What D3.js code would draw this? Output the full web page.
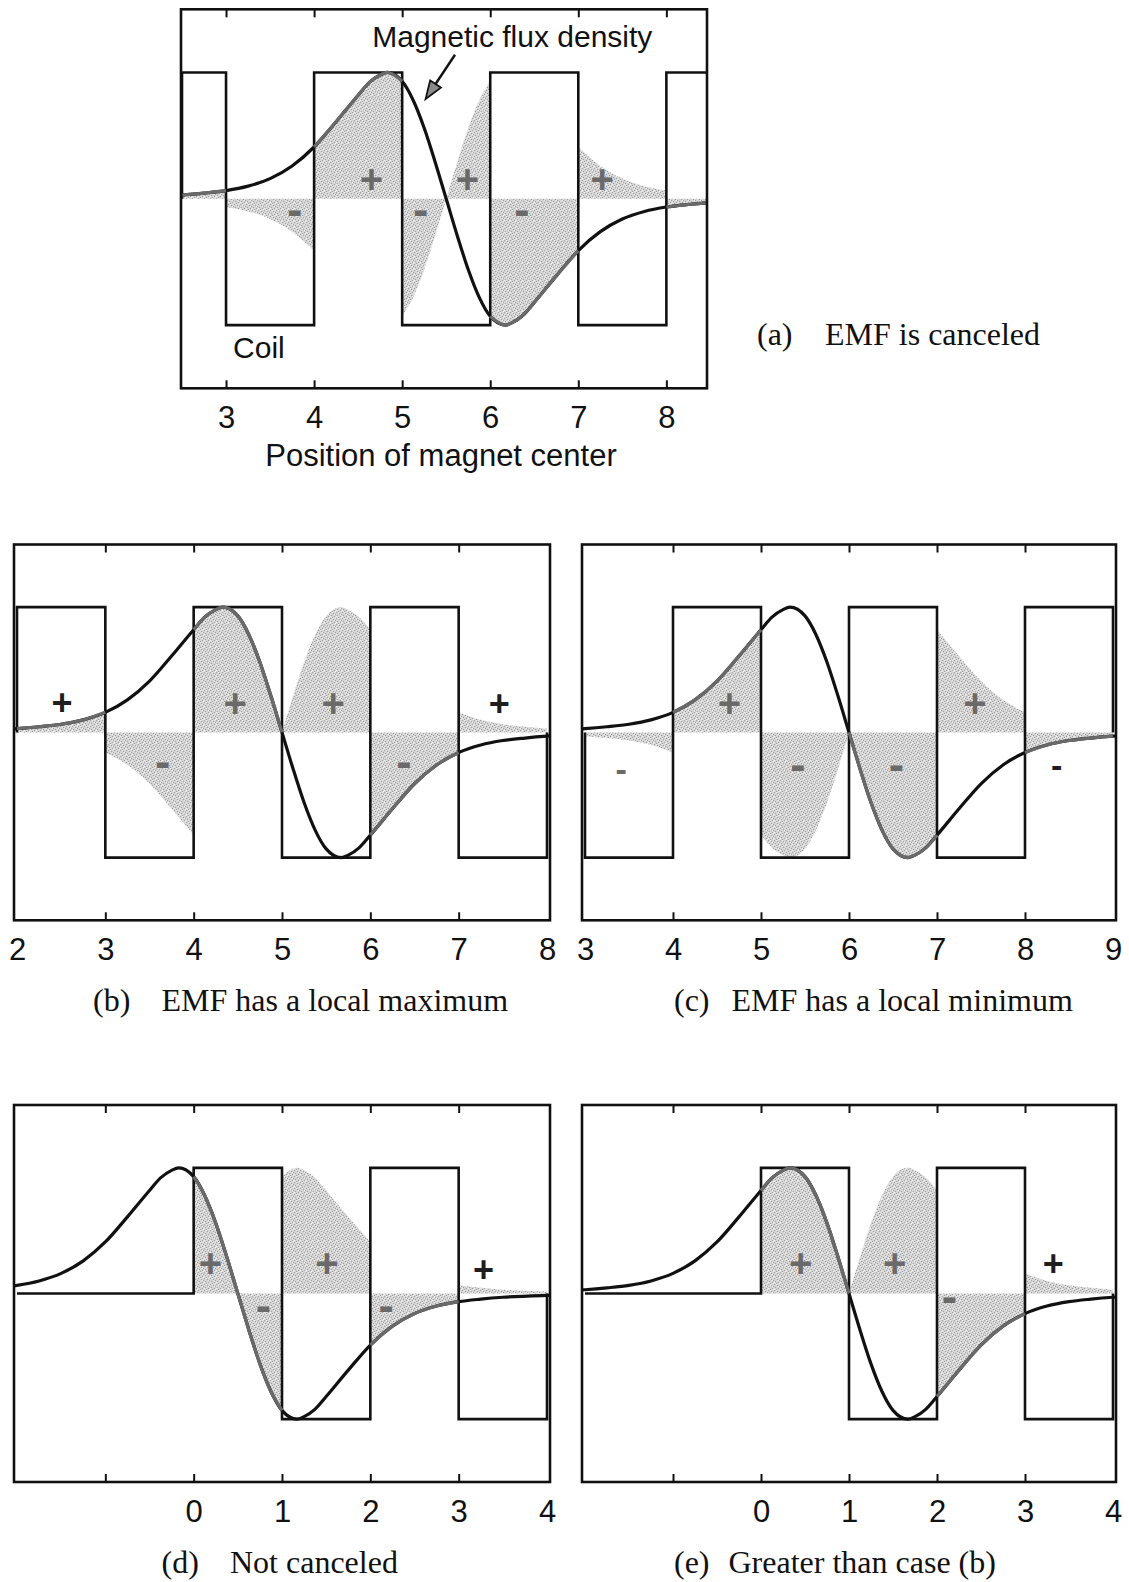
<!DOCTYPE html>
<html>
<head>
<meta charset="utf-8">
<script src="https://cdn.jsdelivr.net/npm/d3@7"></script>
<style>
  html, body { margin: 0; padding: 0; background: #fff; }
  svg { display: block; }
  .sans { font-family: "Liberation Sans", Arial, sans-serif; }
  .serif { font-family: "Liberation Serif", "Times New Roman", serif; }
</style>
</head>
<body>
<svg id="fig" width="1129" height="1582"></svg>
<script>
// Normalised magnetic flux density of the magnet versus offset from its centre
const fluxOffset = [-4, -3.5, -3, -2.75, -2.5, -2.25, -2, -1.75, -1.5, -1.25, -1, -0.875, -0.75, -0.67, -0.5, -0.375, -0.25, -0.125,
                    0, 0.125, 0.25, 0.375, 0.5, 0.67, 0.75, 0.875, 1, 1.25, 1.5, 1.75, 2, 2.25, 2.5, 2.75, 3, 3.5, 4];
const fluxValue  = [0.008, 0.015, 0.03, 0.045, 0.065, 0.10, 0.16, 0.26, 0.41, 0.61, 0.82, 0.92, 0.98, 1.0, 0.93, 0.78, 0.56, 0.29,
                    0, -0.29, -0.56, -0.78, -0.93, -1.0, -0.98, -0.92, -0.82, -0.61, -0.41, -0.26, -0.16, -0.10, -0.065, -0.045, -0.03, -0.015, -0.008];

// Five cases: magnet centre position, plotted range and coil winding layout
const panelIds     = ["a", "b", "c", "d", "e"];
const magnetCenter = [5.5, 5, 6, 0.5, 1];
const xDomains     = [[2.5, 8.45], [2, 8], [3, 9], [-2, 4], [-2, 4]];
const coilEdges    = [[2.5, 3, 4, 5, 6, 7, 8, 8.5], [2, 3, 4, 5, 6, 7, 8], [3, 4, 5, 6, 7, 8, 9], [-2, 0, 1, 2, 3, 4], [-2, 0, 1, 2, 3, 4]];
const coilLevels   = [[1, -1, 1, -1, 1, -1, 1], [1, -1, 1, -1, 1, -1], [-1, 1, -1, 1, -1, 1], [0, 1, -1, 1, -1], [0, 1, -1, 1, -1]];
const tickMarks    = [[3, 4, 5, 6, 7, 8], [3, 4, 5, 6, 7], [4, 5, 6, 7, 8], [-1, 0, 1, 2, 3], [-1, 0, 1, 2, 3]];
const tickLabels   = [[3, 4, 5, 6, 7, 8], [2, 3, 4, 5, 6, 7, 8], [3, 4, 5, 6, 7, 8, 9], [0, 1, 2, 3, 4], [0, 1, 2, 3, 4]];

// Sign of the EMF contribution in each shaded region
const signText = [["-", "+", "-", "+", "-", "+"], ["+", "-", "+", "+", "-", "+"], ["-", "+", "-", "-", "+", "-"], ["+", "-", "+", "-", "+"], ["+", "+", "-", "+"]];
const signX    = [[3.78, 4.65, 5.21, 5.74, 6.36, 7.27], [2.51, 3.65, 4.47, 5.58, 6.38, 7.46], [3.41, 4.64, 5.42, 6.54, 7.43, 8.36], [0.19, 0.79, 1.51, 2.18, 3.28], [0.45, 1.52, 2.14, 3.32]];
const signY    = [[-0.12, 0.15, -0.12, 0.15, -0.12, 0.15], [0.24, -0.27, 0.23, 0.23, -0.27, 0.23], [-0.32, 0.23, -0.29, -0.29, 0.23, -0.29], [0.24, -0.13, 0.24, -0.13, 0.19], [0.24, 0.24, -0.06, 0.24]];
const signDark = [[0, 0, 0, 0, 0, 0], [1, 0, 0, 0, 0, 1], [0, 0, 0, 0, 0, 1], [0, 0, 0, 0, 1], [0, 0, 0, 1]];
const signThin = [[0, 0, 0, 0, 0, 0], [1, 0, 0, 0, 0, 1], [1, 0, 0, 0, 0, 1], [0, 0, 0, 0, 1], [0, 0, 0, 1]];

const captionTag  = ["(a)", "(b)", "(c)", "(d)", "(e)"];
const captionText = ["EMF is canceled", "EMF has a local maximum", "EMF has a local minimum", "Not canceled", "Greater than case (b)"];

// Page layout of each panel (pixels)
const layout = [
  { left: 181, right: 707,  top: 9.3,   bottom: 388.3, inset: 1, tagX: 757,   textX: 825,   capY: 345 },
  { left: 14,  right: 550,  top: 544.5, bottom: 920.3, inset: 3, tagX: 93,    textX: 161.5, capY: 1011 },
  { left: 582, right: 1116, top: 544.5, bottom: 920.3, inset: 3, tagX: 674,   textX: 731.5, capY: 1011 },
  { left: 14,  right: 550,  top: 1105,  bottom: 1482,  inset: 3, tagX: 161.5, textX: 230,   capY: 1573 },
  { left: 582, right: 1116, top: 1105,  bottom: 1482,  inset: 3, tagX: 674,   textX: 728.5, capY: 1573 }
];

const INK = "#111";
const svg = d3.select("#fig");
const defs = svg.append("defs");

// Grainy grey screen used for the shaded regions
const screen = defs.append("pattern").attr("id", "screen")
  .attr("width", 6).attr("height", 6).attr("patternUnits", "userSpaceOnUse");
screen.append("rect").attr("width", 6).attr("height", 6).attr("fill", "#d6d6d6");
[[0, 0], [3, 1], [1, 3], [4, 4], [5, 2], [2, 5]].forEach(([px, py]) =>
  screen.append("rect").attr("x", px).attr("y", py).attr("width", 1).attr("height", 1).attr("fill", "#9c9c9c"));
[[2, 0], [5, 5], [0, 4], [4, 2]].forEach(([px, py]) =>
  screen.append("rect").attr("x", px).attr("y", py).attr("width", 1).attr("height", 1).attr("fill", "#f2f2f2"));

panelIds.forEach((id, i) => {
  const L = layout[i];
  const x = d3.scaleLinear().domain(xDomains[i]).range([L.left + L.inset, L.right - L.inset]);
  const y = d3.scaleLinear().domain([-1.5, 1.5]).range([L.bottom, L.top]);
  const g = svg.append("g").attr("class", "panel-" + id);

  defs.append("clipPath").attr("id", "clip-" + id)
    .append("rect").attr("x", L.left).attr("y", L.top)
    .attr("width", L.right - L.left).attr("height", L.bottom - L.top);

  const flux = fluxOffset.map((u, k) => ({ x: magnetCenter[i] + u, b: fluxValue[k] }));
  const edges = coilEdges[i], levels = coilLevels[i];

  const plot = g.append("g").attr("clip-path", `url(#clip-${id})`);

  // Shaded product of coil winding direction and flux density
  const area = d3.area().x(d => x(d.x)).y0(y(0)).y1(d => y(d.v)).curve(d3.curveMonotoneX);
  const segments = [];
  levels.forEach((lv, s) => {
    if (!lv) return;
    const seg = flux.filter(p => p.x >= edges[s] - 1e-9 && p.x <= edges[s + 1] + 1e-9)
                    .map(p => ({ x: p.x, v: lv * p.b, b: p.b }));
    segments.push({ lv, seg });
    plot.append("path").attr("d", area(seg)).attr("fill", "url(#screen)").attr("stroke", "none");
  });

  // Coil winding: rectangular wave
  const coilPts = [[edges[0], 0]];
  levels.forEach((lv, s) => { coilPts.push([edges[s], lv], [edges[s + 1], lv]); });
  coilPts.push([edges[edges.length - 1], 0]);
  plot.append("path")
    .attr("d", d3.line().x(d => x(d[0])).y(d => y(d[1]))(coilPts))
    .attr("fill", "none").attr("stroke", INK).attr("stroke-width", 2.6)
    .attr("stroke-linejoin", "miter");

  // Magnetic flux density curve
  const fluxLine = d3.line().x(d => x(d.x)).y(d => y(d.b)).curve(d3.curveMonotoneX);
  plot.append("path").attr("d", fluxLine(flux))
    .attr("fill", "none").attr("stroke", INK).attr("stroke-width", 3.2);

  // Where the curve bounds a shaded region it reads grey
  segments.filter(s => s.lv > 0).forEach(s => {
    plot.append("path").attr("d", fluxLine(s.seg))
      .attr("fill", "none").attr("stroke", "#6a6a6a").attr("stroke-width", 3.2);
  });

  // Frame
  g.append("rect").attr("x", L.left).attr("y", L.top)
    .attr("width", L.right - L.left).attr("height", L.bottom - L.top)
    .attr("fill", "none").attr("stroke", INK).attr("stroke-width", 2.6);

  // Inward tick marks on top and bottom edges
  const topAxis = g.append("g").attr("transform", `translate(0,${L.top})`)
    .call(d3.axisTop(x).tickValues(tickMarks[i]).tickSizeInner(-8).tickSizeOuter(0).tickFormat(""));
  const botAxis = g.append("g").attr("transform", `translate(0,${L.bottom})`)
    .call(d3.axisBottom(x).tickValues(tickMarks[i]).tickSizeInner(-8).tickSizeOuter(0).tickFormat(""));
  [topAxis, botAxis].forEach(a => {
    a.select(".domain").remove();
    a.selectAll(".tick line").attr("stroke", INK).attr("stroke-width", 2);
  });

  // Tick labels
  const lab = g.append("g").attr("transform", `translate(0,${L.bottom})`)
    .call(d3.axisBottom(x).tickValues(tickLabels[i]).tickSize(0).tickPadding(18).tickFormat(d3.format("d")));
  lab.select(".domain").remove();
  lab.attr("font-family", null).attr("font-size", null);
  lab.selectAll(".tick text").attr("class", "sans").attr("font-size", 31).attr("fill", INK);

  // Signs of the contributions
  signText[i].forEach((t, k) => {
    const plus = t === "+";
    const thin = signThin[i][k];
    const fs = plus ? (thin ? 36 : 40) : (thin ? 34 : 46);
    g.append("text").attr("class", "sans")
      .attr("x", x(signX[i][k])).attr("y", y(signY[i][k]) + (plus ? 0.34 : 0.24) * fs)
      .attr("text-anchor", "middle").attr("font-size", fs).attr("font-weight", "bold")
      .attr("fill", signDark[i][k] ? "#1e1e1e" : "#6a6a6a")
      .text(t);
  });

  // Caption
  g.append("text").attr("class", "serif").attr("x", L.tagX).attr("y", L.capY)
    .attr("font-size", 32).attr("fill", INK).text(captionTag[i]);
  g.append("text").attr("class", "serif").attr("x", L.textX).attr("y", L.capY)
    .attr("font-size", 32).attr("fill", INK).text(captionText[i]);

  if (id === "a") {
    // Annotations for the first case
    g.append("text").attr("class", "sans").attr("x", x(4.66)).attr("y", y(1.2))
      .attr("font-size", 30).attr("fill", INK).text("Magnetic flux density");
    g.append("text").attr("class", "sans").attr("x", x(3.08)).attr("y", y(-1.26))
      .attr("font-size", 30).attr("fill", INK).text("Coil");
    g.append("text").attr("class", "sans").attr("x", 441).attr("y", L.bottom + 78)
      .attr("text-anchor", "middle").attr("font-size", 31).attr("fill", INK).text("Position of magnet center");

    const tail = [x(5.6), y(1.14)], tip = [x(5.266), y(0.79)];
    const ang = Math.atan2(tip[1] - tail[1], tip[0] - tail[0]);
    const len = 18, half = 6.5;
    const base = [tip[0] - len * Math.cos(ang), tip[1] - len * Math.sin(ang)];
    g.append("line").attr("x1", tail[0]).attr("y1", tail[1]).attr("x2", base[0]).attr("y2", base[1])
      .attr("stroke", INK).attr("stroke-width", 2.4);
    g.append("path")
      .attr("d", d3.line()([tip,
        [base[0] + half * Math.sin(ang), base[1] - half * Math.cos(ang)],
        [base[0] - half * Math.sin(ang), base[1] + half * Math.cos(ang)]]) + "Z")
      .attr("fill", "#8a8a8a").attr("stroke", INK).attr("stroke-width", 1.8)
      .attr("stroke-linejoin", "miter");
  }
});
</script>
</body>
</html>
